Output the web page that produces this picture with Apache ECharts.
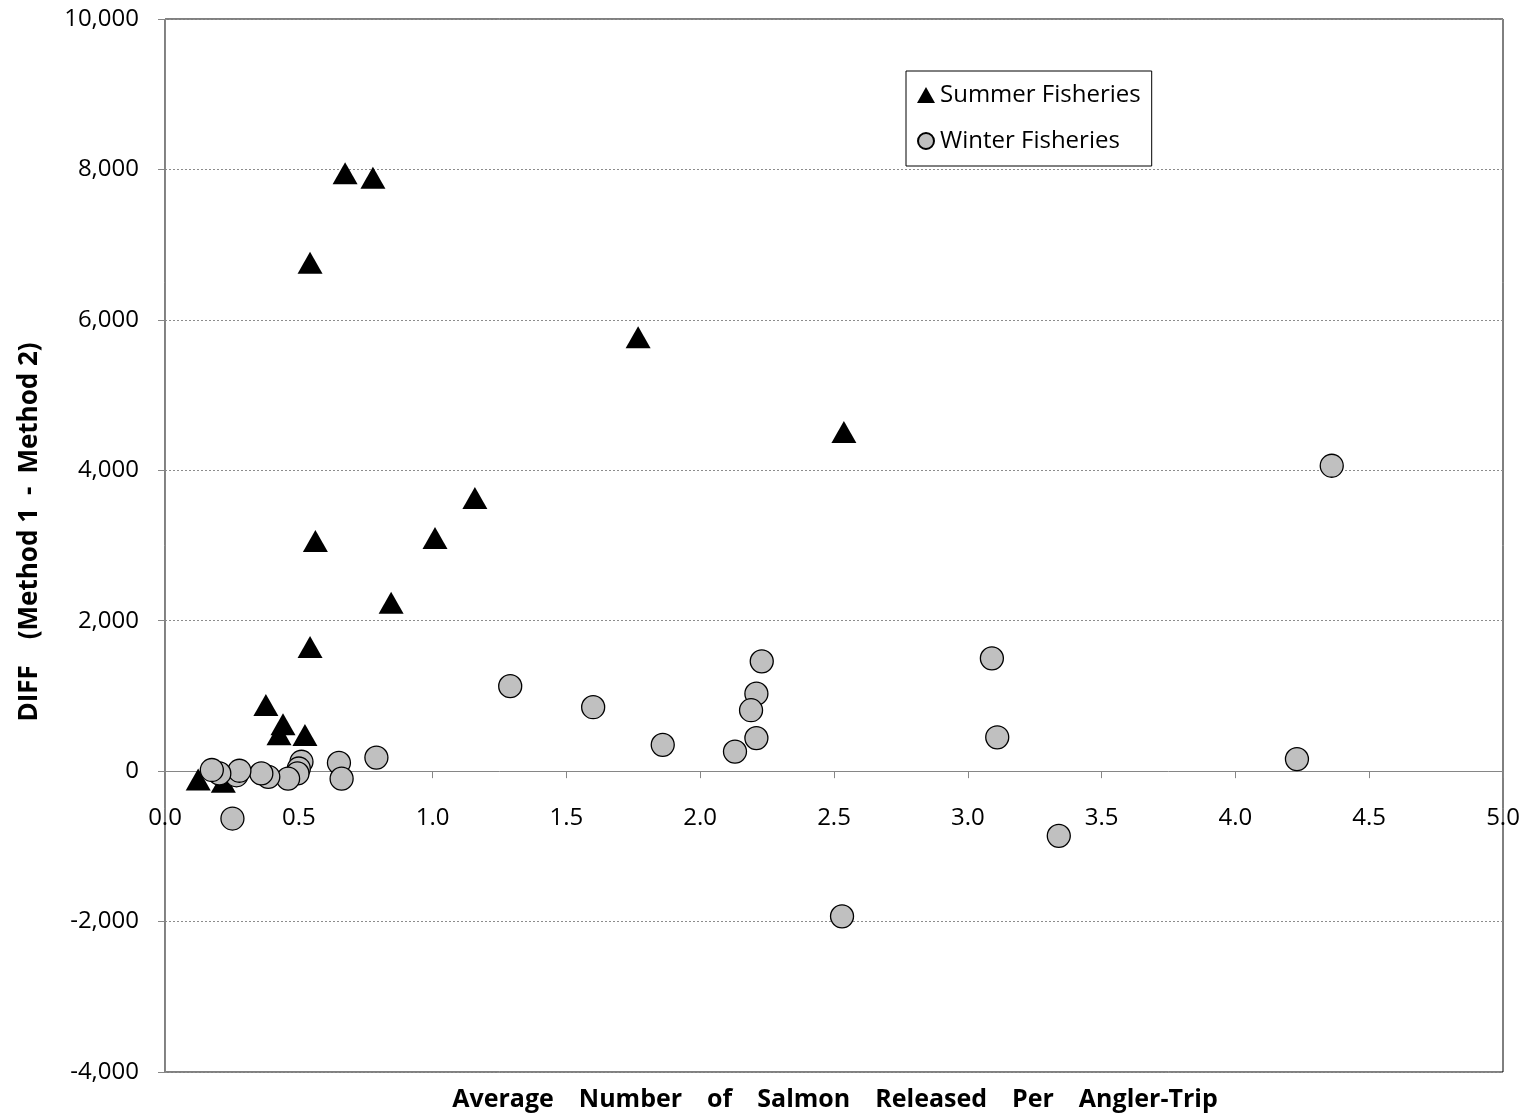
<!DOCTYPE html>
<html>
<head>
<meta charset="utf-8">
<title>DIFF vs. Salmon Released Per Angler-Trip</title>
<script src="https://cdn.jsdelivr.net/npm/echarts@6/dist/echarts.min.js"></script>
<style>
  html, body { margin: 0; padding: 0; background: #fff; }
  #chart { width: 1530px; height: 1118px; }
</style>
</head>
<body>
<div id="chart"></div>
<script>
// Summer fisheries: average salmon released per angler-trip vs. DIFF (Method 1 - Method 2)
const summerX = [0.673, 0.777, 0.542, 1.768, 2.537, 1.158, 0.562, 1.009, 0.845, 0.542,
                 0.377, 0.441, 0.426, 0.523, 0.124, 0.218];
const summerY = [7950, 7890, 6760, 5770, 4510, 3630, 3060, 3100, 2240, 1650,
                 880, 625, 490, 480, -110, -140];

// Winter fisheries
const winterX = [4.36, 3.09, 3.11, 4.23, 3.34, 2.53, 1.29, 1.60, 1.86, 2.23,
                 2.21, 2.19, 2.21, 2.13, 0.79, 0.65, 0.66, 0.51, 0.50, 0.495,
                 0.46, 0.386, 0.36, 0.267, 0.278, 0.203, 0.175, 0.252];
const winterY = [4060, 1500, 450, 160, -860, -1930, 1130, 850, 350, 1460,
                 1030, 810, 440, 260, 180, 110, -100, 125, 35, -30,
                 -100, -75, -30, -55, 5, -30, 15, -630];

const seriesNames = ['Summer Fisheries', 'Winter Fisheries'];
const xTitle = 'Average\u2003Number\u2003of\u2003Salmon\u2003Released\u2003Per\u2003Angler-Trip';
const yTitle = 'DIFF\u2002\u2002(Method 1\u2002-\u2002Method 2)';

// Axis ranges
const xMin = 0, xMax = 5, xStep = 0.5;
const yMin = -4000, yMax = 10000, yStep = 2000;

const zip = (xs, ys) => xs.map((x, i) => [x, ys[i]]);

const FONT = '"Open Sans", "Liberation Sans", sans-serif';
const W = 1530, H = 1118;
const GRID = { left: 165, right: 27, top: 19, bottom: 46 };
const plotH = H - GRID.top - GRID.bottom;
// The x axis sits on the zero line: shift it up from the plot bottom.
const zeroOffset = -plotH * (0 - yMin) / (yMax - yMin);

const chart = echarts.init(document.getElementById('chart'), null, { renderer: 'canvas' });

chart.setOption({
  animation: false,
  backgroundColor: '#ffffff',
  textStyle: { fontFamily: FONT, color: '#000' },
  grid: {
    left: GRID.left, right: GRID.right, top: GRID.top, bottom: GRID.bottom,
    containLabel: false, outerBoundsMode: 'none',
    show: true, borderColor: '#000', borderWidth: 1, backgroundColor: 'transparent'
  },
  legend: {
    orient: 'vertical',
    left: 906, top: 71,
    padding: [12, 11, 13, 11],
    itemGap: 22,
    itemWidth: 18, itemHeight: 16,
    borderColor: '#000', borderWidth: 1,
    backgroundColor: '#fff',
    textStyle: { fontFamily: FONT, fontSize: 24, color: '#000' },
    data: seriesNames
  },
  xAxis: {
    type: 'value',
    position: 'bottom',
    offset: zeroOffset,
    min: xMin, max: xMax, interval: xStep,
    axisLine: { show: true, onZero: false, lineStyle: { color: '#868686', width: 1 } },
    axisTick: { show: true, inside: false, length: 7, lineStyle: { color: '#868686' } },
    axisLabel: {
      margin: 35,
      fontFamily: FONT, fontSize: 24, color: '#000',
      formatter: v => v.toFixed(1),
      showMinLabel: true, showMaxLabel: true, hideOverlap: false
    },
    splitLine: { show: false }
  },
  yAxis: {
    type: 'value',
    min: yMin, max: yMax, interval: yStep,
    axisLine: { show: true, onZero: false, lineStyle: { color: '#868686', width: 1 } },
    axisTick: { show: true, length: 7, lineStyle: { color: '#868686' } },
    axisLabel: {
      margin: 26,
      fontFamily: FONT, fontSize: 24, color: '#000',
      formatter: v => v.toLocaleString('en-US')
    },
    splitLine: { show: true, lineStyle: { color: '#8c8c8c', type: [2, 2], width: 1 } }
  },
  graphic: [
    {
      type: 'text',
      x: 30, y: 532,
      rotation: Math.PI / 2,
      style: {
        text: yTitle,
        fontFamily: FONT, fontSize: 26, fontWeight: 'bold', fill: '#000',
        align: 'center', verticalAlign: 'middle'
      }
    },
    {
      type: 'text',
      x: 835, y: 1100,
      style: {
        text: xTitle,
        fontFamily: FONT, fontSize: 25, fontWeight: 'bold', fill: '#000',
        align: 'center', verticalAlign: 'middle'
      }
    }
  ],
  series: [
    {
      name: seriesNames[0],
      type: 'scatter',
      symbol: 'triangle',
      symbolSize: [25, 22],
      itemStyle: { color: '#000', borderColor: '#000', borderWidth: 0, opacity: 1 },
      data: zip(summerX, summerY),
      z: 2
    },
    {
      name: seriesNames[1],
      type: 'scatter',
      symbol: 'circle',
      symbolSize: 23,
      itemStyle: { color: '#c0c0c0', borderColor: '#000', borderWidth: 1.3, opacity: 1 },
      data: zip(winterX, winterY),
      z: 3
    }
  ]
});
</script>
</body>
</html>
